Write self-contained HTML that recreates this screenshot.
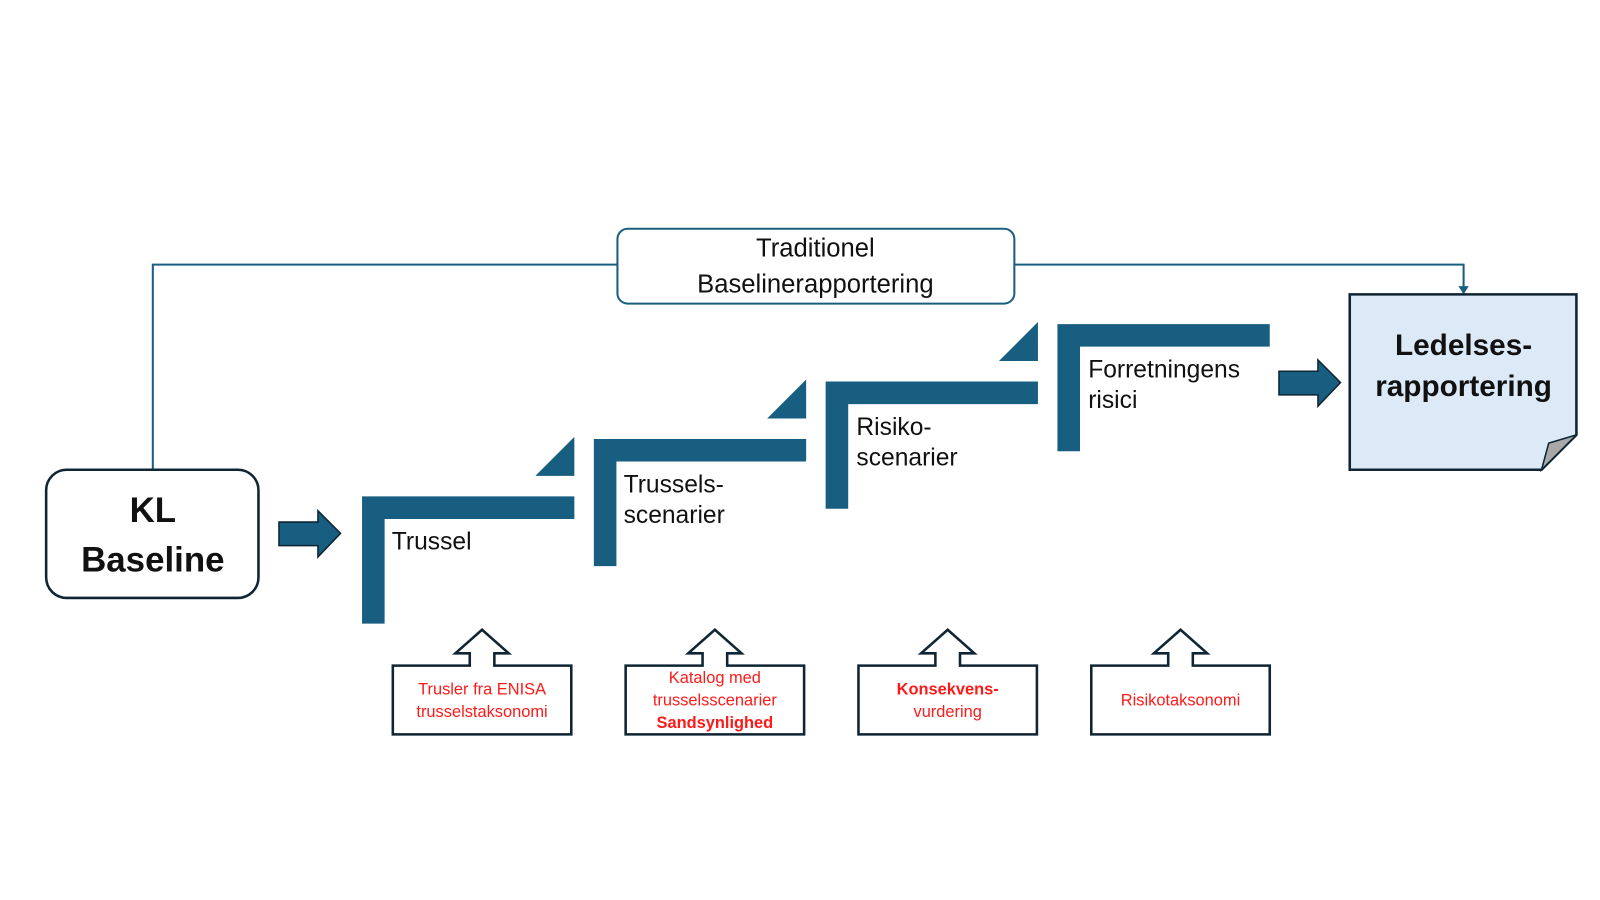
<!DOCTYPE html>
<html><head><meta charset="utf-8"><style>
html,body{margin:0;padding:0;background:#fff;}
svg{display:block;font-family:"Liberation Sans",sans-serif;}
</style></head><body>
<svg width="1600" height="900" viewBox="0 0 1560 877.5" xmlns="http://www.w3.org/2000/svg">
<rect width="1560" height="877.5" fill="#fff"/>
<!-- connector -->
<polyline points="149,458 149,258 602,258" fill="none" stroke="#1a5f80" stroke-width="2"/>
<polyline points="989,258 1427,258 1427,281" fill="none" stroke="#1a5f80" stroke-width="2"/>
<polygon points="1422,279 1432,279 1427,287" fill="#1a5f80"/>
<rect x="602" y="223" width="387" height="73" rx="10" fill="#fff" stroke="#1a5f80" stroke-width="2"/>
<text x="795" y="250" font-size="25" text-anchor="middle" fill="#111">Traditionel</text>
<text x="795" y="285" font-size="25" text-anchor="middle" fill="#111">Baselinerapportering</text>
<!-- KL box -->
<rect x="45" y="458" width="207" height="125" rx="20" fill="#fff" stroke="#0f2533" stroke-width="2.5"/>
<text x="149" y="509" font-size="34" font-weight="bold" text-anchor="middle" fill="#111">KL</text>
<text x="149" y="557" font-size="34" font-weight="bold" text-anchor="middle" fill="#111">Baseline</text>
<!-- arrows -->
<polygon points="272,509 310,509 310,498 332,520 310,543 310,532 272,532" fill="#175e80" stroke="#0f2533" stroke-width="1.5"/>
<polygon points="1247,362 1285,362 1285,351 1307,373 1285,396 1285,385 1247,385" fill="#175e80" stroke="#0f2533" stroke-width="1.5"/>
<!-- steps -->
<g fill="#175e80">
<path d="M353,484 H560 V506 H375 V608 H353 Z"/>
<polygon points="522,464 560,426 560,464"/>
<path d="M579,428 H786 V450 H601 V552 H579 Z"/>
<polygon points="748,408 786,370 786,408"/>
<path d="M805,372 H1012 V394 H827 V496 H805 Z"/>
<polygon points="974,352 1012,314 1012,352"/>
<path d="M1031,316 H1238 V338 H1053 V440 H1031 Z"/>
</g>
<g font-size="24" fill="#111">
<text x="382" y="536">Trussel</text>
<text x="608" y="480">Trussels-</text>
<text x="608" y="510">scenarier</text>
<text x="835" y="424">Risiko-</text>
<text x="835" y="454">scenarier</text>
<text x="1061" y="368">Forretningens</text>
<text x="1061" y="398">risici</text>
</g>
<!-- Ledelses doc -->
<path d="M1316,287 H1537 V424 L1503,458 H1316 Z" fill="#dce9f6" stroke="#0f2533" stroke-width="2.5"/>
<polygon points="1503,458 1510,432 1537,424" fill="#a8a8a8" stroke="#0f2533" stroke-width="1.5"/>
<text x="1427" y="346" font-size="29" font-weight="bold" text-anchor="middle" fill="#111">Ledelses-</text>
<text x="1427" y="386" font-size="29" font-weight="bold" text-anchor="middle" fill="#111">rapportering</text>
<!-- callouts -->
<g fill="#fff" stroke="#0f2533" stroke-width="2.5">
<path d="M383,649 H458 V637 H444 L470,614 L496,637 H482 V649 H557 V716 H383 Z"/>
<path d="M610,649 H685 V637 H671 L697,614 L723,637 H709 V649 H784 V716 H610 Z"/>
<path d="M837,649 H912 V637 H898 L924,614 L950,637 H936 V649 H1011 V716 H837 Z"/>
<path d="M1064,649 H1139 V637 H1125 L1151,614 L1177,637 H1163 V649 H1238 V716 H1064 Z"/>
</g>
<g font-size="16" fill="#ff1a1a" text-anchor="middle">
<text x="470" y="677">Trusler fra ENISA</text>
<text x="470" y="699">trusselstaksonomi</text>
<text x="697" y="666">Katalog med</text>
<text x="697" y="688">trusselsscenarier</text>
<text x="697" y="710" font-weight="bold">Sandsynlighed</text>
<text x="924" y="677" font-weight="bold">Konsekvens-</text>
<text x="924" y="699">vurdering</text>
<text x="1151" y="688">Risikotaksonomi</text>
</g>
</svg>
</body></html>
